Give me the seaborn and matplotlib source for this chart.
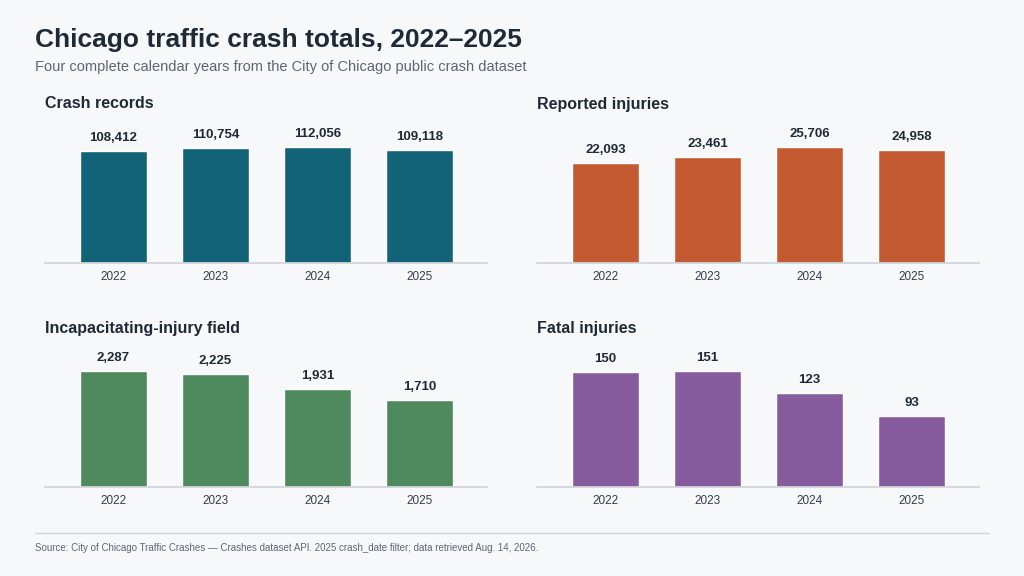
import matplotlib
matplotlib.use("Agg")
import matplotlib.pyplot as plt
import seaborn as sns
import pandas as pd

years = ["2022", "2023", "2024", "2025"]
crashes = [108412, 110754, 112056, 109118]
injuries = [22093, 23461, 25706, 24958]
incap = [2287, 2225, 1931, 1710]
fatal = [150, 151, 123, 93]

panels = [
    ("Crash records", crashes, "#126378"),
    ("Reported injuries", injuries, "#c45a32"),
    ("Incapacitating-injury field", incap, "#4e8a5e"),
    ("Fatal injuries", fatal, "#875c9e"),
]

sns.set_theme(style="white")
plt.rcParams['font.family'] = ['Liberation Sans', 'DejaVu Sans']
BG = "#f7f8fa"
W, H = 1024, 576
fig = plt.figure(figsize=(W/100, H/100), dpi=100, facecolor=BG)

fig.text(35/W, 1-40/H, "Chicago traffic crash totals, 2022–2025", fontsize=19, fontweight="bold",
         color="#1f2a37", va="center", ha="left")
fig.text(35/W, 1-67/H, "Four complete calendar years from the City of Chicago public crash dataset",
         fontsize=10.5, color="#5b6675", va="center", ha="left")

pos = [(45, 263), (537, 263), (45, 487), (537, 487)]
for (title, vals, col), (x0, yb) in zip(panels, pos):
    ax = fig.add_axes([x0/W, 1-yb/H, 442/W, 143/H])
    ax.set_facecolor(BG)
    df = pd.DataFrame({"year": years, "v": vals})
    sns.barplot(data=df, x="year", y="v", color=col, width=0.66, saturation=1, ax=ax)
    ax.set_xlim(-0.67, 3.66)
    ax.set_ylim(0, max(vals)*1.233)
    for i, v in enumerate(vals):
        ax.text(i, v + max(vals)*0.06, f"{v:,}", ha="center", va="bottom", fontsize=9.5,
                fontweight="bold", color="#1f2a37")
    for s in ["top", "right", "left"]:
        ax.spines[s].set_visible(False)
    ax.spines["bottom"].set_color("#d0d4d9")
    ax.set_yticks([])
    ax.set_xlabel(""); ax.set_ylabel("")
    ax.tick_params(axis="x", length=0, labelsize=8.5, colors="#333d4a", pad=6)
    fig.text(x0/W, 1-(yb-159)/H, title, fontsize=11.5, fontweight="bold", color="#1f2a37",
             va="center", ha="left")

fig.add_artist(plt.Line2D([35/W, 989/W], [1-533/H, 1-533/H], color="#d0d4d9", lw=1))
fig.text(35/W, 1-548/H, "Source: City of Chicago Traffic Crashes — Crashes dataset API. 2025 crash_date filter; data retrieved Aug. 14, 2026.",
         fontsize=7, color="#5b6675", va="center", ha="left")

fig.savefig("out.png", dpi=100, facecolor=BG)
